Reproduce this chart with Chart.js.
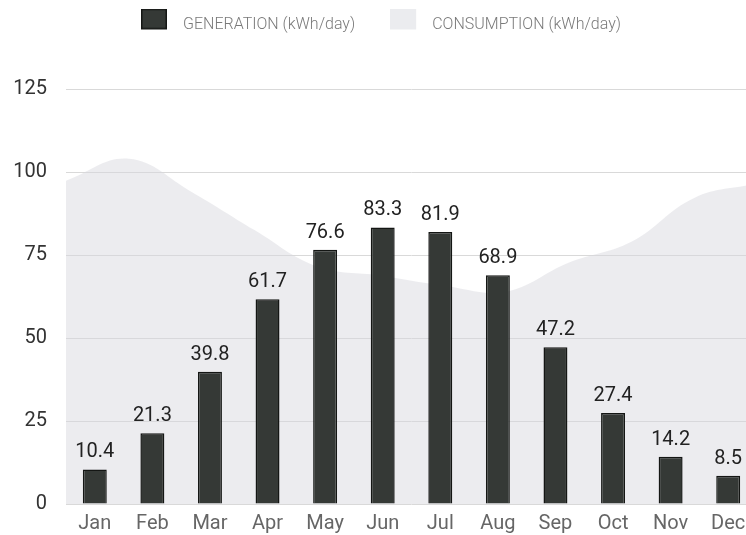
<!DOCTYPE html>
<html><head><meta charset="utf-8">
<script src="https://cdn.jsdelivr.net/npm/chart.js@4.4.1/dist/chart.umd.min.js"></script>
<style>
html,body{margin:0;padding:0;background:#fff;overflow:hidden}
#wrap{width:760px;height:535px;position:relative}
</style></head>
<body><div id="wrap"><canvas id="c"></canvas></div>
<script>
const months = ['Jan','Feb','Mar','Apr','May','Jun','Jul','Aug','Sep','Oct','Nov','Dec'];
const generation = [10.4,21.3,39.8,61.7,76.6,83.3,81.9,68.9,47.2,27.4,14.2,8.5];
const consumption = [97.4,104,94,82.5,71.5,68.8,65.8,64,72.7,79,92.2,96.5];
const yTicks = [0,25,50,75,100,125];
const seriesNames = ['GENERATION (kWh/day)','CONSUMPTION (kWh/day)'];

// legend swatch images (box plus transparent margin so text sits further from the box)
function legendSwatch(color, border){
  const c = document.createElement('canvas');
  c.width = 34; c.height = 33;
  const g = c.getContext('2d');
  g.fillStyle = color; g.fillRect(0,0,26,21);
  if (border){ g.strokeStyle = border; g.lineWidth = 1.5; g.strokeRect(0.75,0.75,24.5,19.5); }
  return c;
}
const swatches = [legendSwatch('#353936','#141614'), legendSwatch('#ebecef')];

const valueLabels = {
  id:'valueLabels',
  afterDatasetsDraw(chart){
    const meta = chart.getDatasetMeta(0);
    const ctx = chart.ctx;
    ctx.save();
    ctx.font = '20px Roboto';
    ctx.fillStyle = '#222';
    ctx.textAlign = 'center';
    ctx.textBaseline = 'alphabetic';
    meta.data.forEach((bar,i)=>{ ctx.fillText(String(generation[i]), bar.x, bar.y - 12); });
    ctx.restore();
  }
};
const legendSpace = {
  id:'legendSpace',
  beforeLayout(chart){
    const lg = chart.legend;
    if (lg && !lg._patched){
      const f = lg.fit;
      lg.fit = function(){ f.call(this); this.height += 46; };
      lg._patched = true;
    }
  }
};
function noPad(s){ s.paddingLeft = 0; s.paddingRight = 0; }

new Chart(document.getElementById('c'), {
  type:'bar',
  data:{
    labels: months,
    datasets:[
      {type:'bar', label:seriesNames[0], data:generation, backgroundColor:'#353936', borderColor:'#141614', borderWidth:1.5,
       categoryPercentage:0.8, barPercentage:0.52, grouped:false, order:1},
      {type:'line', label:seriesNames[1], data:consumption, xAxisID:'x2', backgroundColor:'rgba(215,215,222,0.47)',
       borderWidth:0, borderColor:'rgba(0,0,0,0)', pointRadius:0, fill:'origin', tension:0.4, order:2}
    ]
  },
  options:{
    responsive:true, maintainAspectRatio:false, animation:false,
    layout:{padding:{top:-18,left:5,right:3,bottom:2}},
    plugins:{
      legend:{display:true, position:'top',
        labels:{usePointStyle:true, pointStyleWidth:34, boxHeight:16, padding:35, color:'#7a7a7a',
          font:{family:'Roboto', size:16, weight:'300'},
          generateLabels(chart){
            const items = Chart.defaults.plugins.legend.labels.generateLabels(chart);
            items.forEach(it=>{ it.pointStyle = swatches[it.datasetIndex]; });
            return items;
          }}},
      tooltip:{enabled:false}
    },
    scales:{
      x:{grid:{display:false, drawTicks:false}, border:{display:false},
         afterFit(s){ s.height = 29; noPad(s); },
         ticks:{color:'#666', font:{family:'Roboto', size:20}, padding:8}},
      x2:{type:'category', labels:months, offset:false, display:false,
         grid:{display:false, drawTicks:false}, ticks:{display:false},
         afterFit(s){ s.height = 0; noPad(s); }},
      y:{min:0, max:125, border:{display:false},
         grid:{color:'#d9d9d9', drawTicks:false},
         afterFit(s){ s.width = 61; },
         afterBuildTicks(scale){ scale.ticks = yTicks.map(v=>({value:v})); },
         ticks:{color:'#333', font:{family:'Roboto', size:20}, padding:19}}
    }
  },
  plugins:[valueLabels, legendSpace]
});
</script>
</body></html>
